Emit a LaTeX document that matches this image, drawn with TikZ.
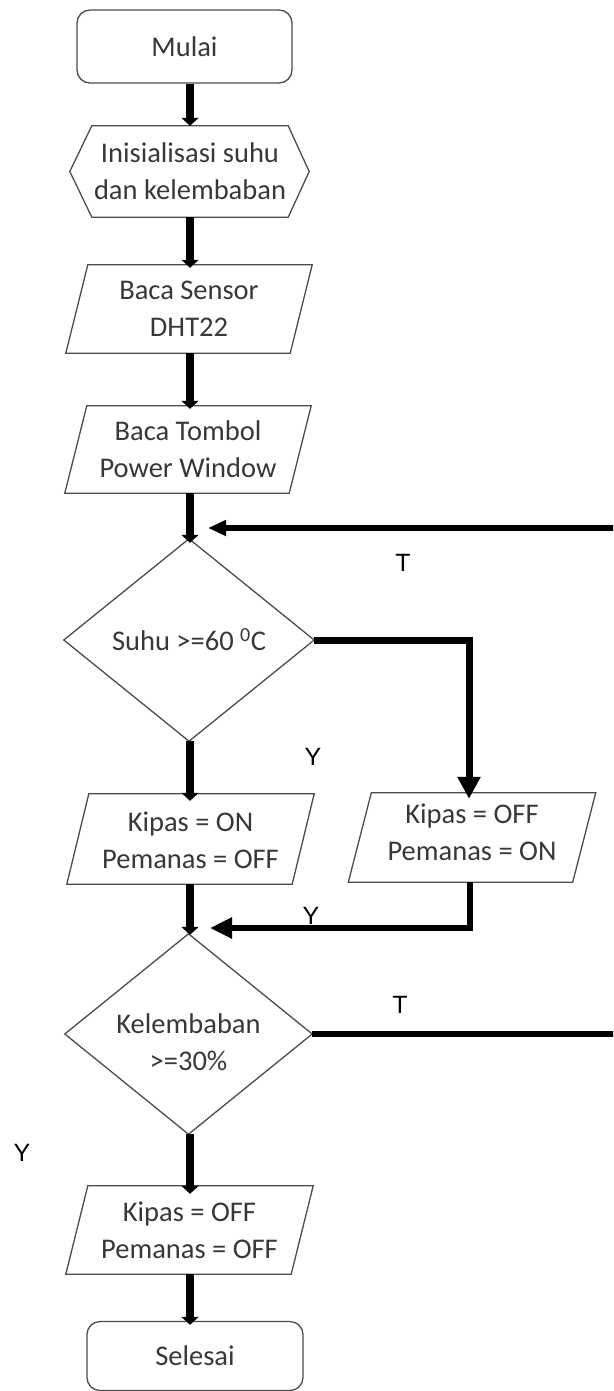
\documentclass[tikz,border=0pt]{standalone}
\usepackage{fontspec}
\setmainfont{Carlito}
\newfontfamily\labfont{Liberation Sans}
\usetikzlibrary{arrows.meta,calc}
\definecolor{textgray}{gray}{0.22}
\definecolor{linegray}{gray}{0.3}
\newcommand\drawpara[2]{\draw[shapeline] ($(#1.north west)+(#2,0)$) -- ($(#1.north east)+(#2,0)$) -- ($(#1.south east)-(#2,0)$) -- ($(#1.south west)-(#2,0)$) -- cycle;}
\newcommand\drawdiam[1]{\draw[shapeline] (#1.north) -- (#1.east) -- (#1.south) -- (#1.west) -- cycle;}
\newcommand\twolines[3]{\raisebox{#1}[\height][\depth]{\begin{tabular}{@{}c@{}}#2\\#3\end{tabular}}}
\begin{document}
\begin{tikzpicture}[x=1pt,y=-1pt,
  txt/.style={font=\fontsize{28.5}{37}\selectfont, text=textgray, align=center, inner sep=0pt},
  shapeline/.style={draw=linegray, line width=1.3pt},
  geo/.style={txt, rectangle, minimum width=#1},
  term/.style={txt, draw=linegray, line width=1.3pt, rounded corners=13pt},
  flow/.style={line width=8pt, -{Triangle[length=8pt,width=17pt]}},
  bigflow/.style={line width=7pt, -{Triangle[length=22pt,width=22pt]}},
  hflow/.style={line width=6.5pt, -{Triangle[length=18pt,width=15pt]}},
  mflow/.style={line width=6.5pt, -{Triangle[length=22pt,width=20pt]}},
  lab/.style={font=\labfont\fontsize{25}{30}\selectfont, inner sep=0pt, text=black}]
\clip (0,0) rectangle (613,1391);
\fill[white] (0,0) rectangle (613,1391);

% terminals
\node[term, minimum width=215pt, minimum height=73pt] (mulai) at (184.5,46.5) {Mulai};
\node[term, minimum width=216pt, minimum height=69pt] (selesai) at (195,1356) {Selesai};

% hexagon
\node[geo=196pt, minimum height=91pt] (init) at (190,171.5) {Inisialisasi suhu\\dan kelembaban};
\draw[shapeline] (init.north west) -- (init.north east) -- ($(init.east)+(21,0)$) -- (init.south east) -- (init.south west) -- ($(init.west)+(-22,0)$) -- cycle;

% parallelograms
\node[geo=224pt, minimum height=88pt] (sensor) at (189,309) {Baca Sensor\\DHT22};
\drawpara{sensor}{11}
\node[geo=224pt, minimum height=87pt] (tombol) at (188,449.5) {Baca Tombol\\Power Window};
\drawpara{tombol}{11}
\node[geo=225pt, minimum height=90pt] (kon) at (190.5,839) {\twolines{-4pt}{Kipas = ON}{Pemanas = OFF}};
\drawpara{kon}{11}
\node[geo=224pt, minimum height=89pt] (koff) at (472,837.5) {\twolines{3pt}{Kipas = OFF}{Pemanas = ON}};
\drawpara{koff}{11.5}
\node[geo=225pt, minimum height=88pt] (kfin) at (189.5,1230) {Kipas = OFF\\Pemanas = OFF};
\drawpara{kfin}{11}

% diamonds
\node[geo=250pt, minimum height=202pt] (d1) at (189,640) {Suhu >=60 \textsuperscript{0}C};
\drawdiam{d1}
\node[geo=247pt, minimum height=200pt] (d2) at (188.5,1034) {\twolines{-11pt}{Kelembaban}{>=30\%}};
\drawdiam{d2}

% connectors
\coordinate (loopin) at (208,528);
\coordinate (mergein) at (210,928);
\draw[flow] (mulai.south -| 190,0) -- (init.north -| 190,0);
\draw[flow] (init.south -| 190,0) -- ([yshift=-3pt]sensor.north -| 190,0);
\draw[flow] (sensor.south -| 190,0) -- ([yshift=-3pt]tombol.north -| 190,0);
\draw[flow] (tombol.south -| 190,0) -- ([yshift=-4pt]d1.north -| 190,0);
\draw[hflow] (d2.east) -- (640,1034) -- (640,528) -- (loopin);
\draw[bigflow] (d1.east) -- (469,640) -- ([yshift=-6pt]koff.north -| 469,0);
\draw[flow] (d1.south -| 190,0) -- ([yshift=-7pt]kon.north -| 190,0);
\draw[flow] (kon.south -| 190,0) -- ([yshift=-1pt]d2.north -| 190,0);
\draw[mflow] (koff.south -| 470,0) -- (470,928) -- (mergein);
\draw[flow] (d2.south -| 190,0) -- ([yshift=-8pt]kfin.north -| 190,0);
\draw[flow] (kfin.south -| 190,0) -- ([yshift=-4pt]selesai.north -| 190,0);

% labels
\node[lab] (t1) at (403,563) {T};
\node[lab] (y1) at (313,757) {Y};
\node[lab] (y2) at (311,916) {Y};
\node[lab] (t2) at (400,1005) {T};
\node[lab] (y3) at (22,1153) {Y};
\end{tikzpicture}
\end{document}
